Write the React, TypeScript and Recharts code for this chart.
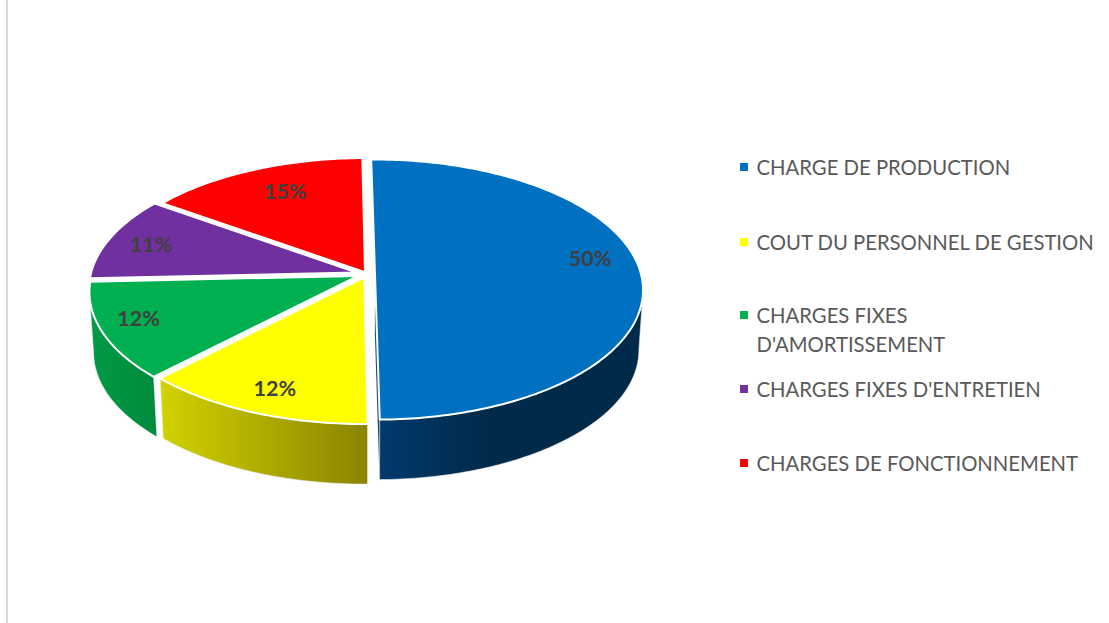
import React from 'react';
import { PieChart, Pie, Legend } from 'recharts';

const CATEGORIES = [
  'CHARGE DE PRODUCTION',
  'COUT DU PERSONNEL DE GESTION',
  "CHARGES FIXES D'AMORTISSEMENT",
  "CHARGES FIXES D'ENTRETIEN",
  'CHARGES DE FONCTIONNEMENT',
];
const VALUES = [50, 12.49, 12, 10.51, 15];
const COLORS = ['#0070c0', '#ffff00', '#00b050', '#7030a0', '#ff0000'];
// wall gradient, left to right
const WALL_LEFT = ['#003a6c', '#d2d200', '#009a46', '#4a2070', '#a00000'];
const WALL_RIGHT = ['#002a4a', '#8a8400', '#008a3c', '#4a2070', '#a00000'];

const data = CATEGORIES.map((name, i) => ({ name, value: VALUES[i], fill: COLORS[i] }));

// fake 3D: unit disc is tilted with a small perspective
const TILT = 0.482;
const PERSPECTIVE = 0.12;
const DEPTH = 60;
const NARROW = 0.985;
const EXPLODE = [0.03, 0.028, 0.037, 0.04, 0.016];
const LABEL_R = 0.81;
const LABEL_NUDGE = [[0, -15], [-1, 4], [-14, -2], [-5, 0], [12, 3]];

const rad = (d: number) => (d * Math.PI) / 180;

const project = (cx: number, cy: number, R: number, u: number, v: number) => {
  const w = 1 - PERSPECTIVE * v;
  return [cx + (R * u) / w, cy + (R * TILT * v) / w];
};

const pointAt = (cx: number, cy: number, R: number, index: number, mid: number, angle: number, r: number) => {
  const u = EXPLODE[index] * Math.cos(rad(mid)) + r * Math.cos(rad(angle));
  const v = -EXPLODE[index] * Math.sin(rad(mid)) - r * Math.sin(rad(angle));
  return project(cx, cy, R, u, v);
};

const toPath = (pts: number[][]) =>
  pts.map((p, i) => `${i ? 'L' : 'M'}${p[0].toFixed(2)},${p[1].toFixed(2)}`).join(' ') + ' Z';

const Slice3D = (props: any) => {
  const { cx, cy, outerRadius, startAngle, endAngle, name, fill } = props;
  const index = CATEGORIES.indexOf(name);
  const mid = (startAngle + endAngle) / 2;
  const hi = Math.max(startAngle, endAngle);
  const lo = Math.min(startAngle, endAngle);

  const arc: number[] = [];
  for (let a = hi; a > lo; a -= 1) arc.push(a);
  arc.push(lo);

  const drop = (p: number[]) => [cx + (p[0] - cx) * NARROW, p[1] + DEPTH];
  const at = (a: number, r = 1) => pointAt(cx, cy, outerRadius, index, mid, a, r);

  const top = [at(mid, 0), ...arc.map((a) => at(a))];
  const front = arc.filter((a) => -Math.sin(rad(a)) >= PERSPECTIVE).map((a) => at(a));
  const wall = front.length > 1 ? [...front, ...front.slice().reverse().map(drop)] : null;

  const apex = at(mid, 0);
  const end = at(lo);
  const cut = index === 0 ? [apex, end, drop(end), drop(apex)] : null;
  const gid = `wall-${index}`;

  return (
    <g>
      <defs>
        <linearGradient id={gid} x1="0" y1="0" x2="1" y2="0">
          <stop offset="0" stopColor={WALL_LEFT[index]} />
          <stop offset={index === 0 ? '0.4' : '1'} stopColor={WALL_RIGHT[index]} />
        </linearGradient>
      </defs>
      {cut && <path d={toPath(cut)} fill="#1d4f78" />}
      {wall && <path d={toPath(wall)} fill={`url(#${gid})`} stroke="#e8ecef" strokeWidth={0.6} />}
      <path d={toPath(top)} fill={fill} stroke="#ffffff" strokeWidth={2} strokeLinejoin="round" />
    </g>
  );
};

const renderLabel = (props: any) => {
  const { cx, cy, outerRadius, midAngle, value, index } = props;
  const [x, y] = pointAt(cx, cy, outerRadius, index, midAngle, midAngle, LABEL_R);
  return (
    <text
      x={x + LABEL_NUDGE[index][0]}
      y={y + LABEL_NUDGE[index][1]}
      textAnchor="middle"
      dominantBaseline="central"
      fontFamily="Lato, sans-serif"
      fontWeight={700}
      fontSize={21.5}
      fill="#404040"
    >
      {`${Math.round(value)}%`}
    </text>
  );
};

const LEGEND_GAP = [0, 46, 44, 16, 45];

const renderLegend = () => (
  <div style={{ fontFamily: 'Lato, sans-serif', fontSize: 20.3, lineHeight: '29px', color: '#595959' }}>
    {CATEGORIES.map((name, i) => (
      <div key={name} style={{ display: 'flex', marginTop: LEGEND_GAP[i] }}>
        <span
          style={{
            flex: '0 0 8px',
            width: 8,
            height: 8,
            marginTop: 10,
            marginRight: 9,
            background: COLORS[i],
          }}
        />
        <span style={{ width: i === 2 ? 240 : 352, whiteSpace: i === 2 ? 'normal' : 'nowrap' }}>{name}</span>
      </div>
    ))}
  </div>
);

export default function App() {
  return (
    <div style={{ position: 'absolute', left: 0, top: 0, width: 1109, height: 623, background: '#fff' }}>
      <div style={{ position: 'absolute', left: 6, top: 0, width: 2, height: 623, background: '#d9d9d9' }} />
      <PieChart width={1109} height={623} margin={{ top: 0, right: 0, bottom: 0, left: 0 }}>
        <Pie
          data={data}
          dataKey="value"
          nameKey="name"
          cx={367}
          cy={274}
          outerRadius={266}
          startAngle={90.7}
          endAngle={-269.3}
          shape={Slice3D}
          label={renderLabel}
          labelLine={false}
          isAnimationActive={false}
        />
        <Legend
          layout="vertical"
          content={renderLegend}
          wrapperStyle={{ position: 'absolute', left: 739.5, top: 153, width: 369 }}
        />
      </PieChart>
    </div>
  );
}
